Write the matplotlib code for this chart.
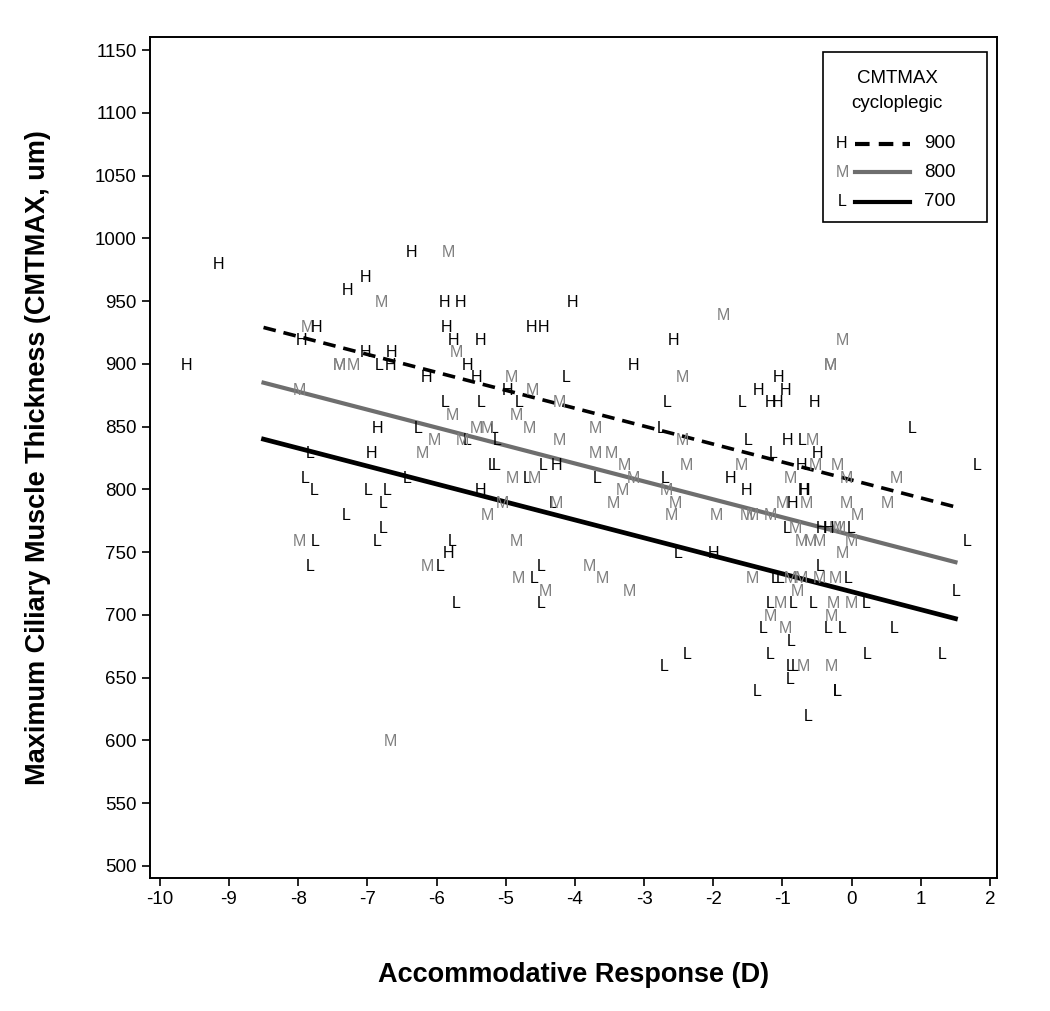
import matplotlib
matplotlib.use("Agg")
import matplotlib.pyplot as plt
import numpy as np
from matplotlib.patches import Rectangle

plt.rcParams['font.family'] = ['Liberation Sans', 'DejaVu Sans']
plt.rcParams['axes.unicode_minus'] = False

# ciliary muscle thickness groups (letter markers)
h_x = [-9.15, -9.61, -7.02, -7.28, -6.36, -5.89, -5.66, -4.04, -7.73, -7.95,
       -5.86, -4.62, -4.46, -5.75, -5.37, -2.58, -7.02, -6.65, -6.66, -5.55,
       -3.16, -6.14, -5.42, -4.98, -1.06, -1.35, -0.96, -1.17, -1.07, -0.53,
       -0.93, -0.49, -0.72, -6.86, -6.94, -4.26, -1.75, -5.37, -1.52, -0.70,
       -0.68, -0.85, -0.43, -0.34, -5.82, -1.99]
h_y = [980, 900, 970, 960, 990, 950, 950, 950, 930, 920,
       930, 930, 930, 920, 920, 920, 910, 910, 900, 900,
       900, 890, 890, 880, 890, 880, 880, 870, 870, 870,
       840, 830, 820, 850, 830, 820, 810, 800, 800, 800,
       800, 790, 770, 770, 750, 750]

m_x = [-5.83, -6.80, -1.85, -7.87, -0.13, -7.41, -7.41, -7.20, -0.30, -0.30,
       -5.71, -2.45, -7.98, -4.91, -4.62, -4.23, -5.77, -4.84, -5.42, -5.27,
       -4.66, -3.70, -6.03, -5.62, -4.23, -2.45, -0.56, -6.21, -3.71, -3.47,
       -3.28, -2.39, -1.59, -0.52, -0.20, -4.90, -4.58, -3.16, -0.88, -0.07,
       0.64, -3.31, -2.68, -5.04, -4.26, -3.45, -2.54, -1.00, -0.66, -0.07,
       0.51, -5.27, -2.61, -1.96, -1.52, -1.43, -1.18, 0.09, -0.81, -0.24,
       -0.17, -4.84, -7.98, -0.72, -0.60, -0.46, 0.00, -0.14, -6.13, -3.79,
       -4.82, -3.60, -1.43, -0.89, -0.72, -0.46, -0.24, -4.43, -3.21, -0.79,
       -1.03, -0.27, 0.00, -1.18, -0.29, -0.95, -0.70, -0.29, -6.66]
m_y = [990, 950, 940, 930, 920, 900, 900, 900, 900, 900,
       910, 890, 880, 890, 880, 870, 860, 860, 850, 850,
       850, 850, 840, 840, 840, 840, 840, 830, 830, 830,
       820, 820, 820, 820, 820, 810, 810, 810, 810, 810,
       810, 800, 800, 790, 790, 790, 790, 790, 790, 790,
       790, 780, 780, 780, 780, 780, 780, 780, 770, 770,
       770, 760, 760, 760, 760, 760, 760, 750, 740, 740,
       730, 730, 730, 730, 730, 730, 730, 720, 720, 720,
       710, 710, 710, 700, 700, 690, 660, 660, 600]

l_x = [-6.83, -4.12, -5.88, -5.36, -4.81, -2.67, -1.58, -6.27, -5.16, -2.76,
       0.87, -5.56, -5.13, -1.49, -0.71, -7.83, -1.14, -5.19, -5.14, -4.46,
       1.81, -6.43, -4.69, -3.68, -2.70, -7.90, -7.77, -6.99, -6.71, -6.77,
       -4.32, -7.31, -0.93, 0.00, -6.77, -7.75, -6.86, 1.67, -5.78, -2.51,
       -0.46, -7.83, -5.95, -4.49, -4.59, -1.11, -1.04, -0.05, 1.51, -5.71,
       -4.49, -1.18, -0.85, -0.55, 0.21, -1.28, -0.34, -0.14, 0.61, -0.87,
       -2.38, -1.18, 0.22, 1.31, -2.71, -0.89, -0.82, -0.89, -1.36, -0.21,
       -0.21, -0.63]
l_y = [900, 890, 870, 870, 870, 870, 870, 850, 850, 850,
       850, 840, 840, 840, 840, 830, 830, 820, 820, 820,
       820, 810, 810, 810, 810, 810, 800, 800, 800, 790,
       790, 780, 770, 770, 770, 760, 760, 760, 760, 750,
       740, 740, 740, 740, 730, 730, 730, 730, 720, 710,
       710, 710, 710, 710, 710, 690, 690, 690, 690, 680,
       670, 670, 670, 670, 660, 660, 660, 650, 640, 640,
       640, 620]

# fitted lines at cycloplegic CMTMAX = 900 / 800 / 700
fit_x = [-8.5, 1.5]
fit_900 = [929, 786]
fit_800 = [885, 742]
fit_700 = [840, 697]

gray = '#808080'
fig = plt.figure(figsize=(10.5, 10.11), dpi=100)
ax = fig.add_axes([0.1429, 0.1316, 0.8066, 0.8318])

for xs, ys, lab, col in [(l_x, l_y, 'L', 'black'), (m_x, m_y, 'M', gray), (h_x, h_y, 'H', 'black')]:
    for x, y in zip(xs, ys):
        ax.text(x, y, lab, color=col, fontsize=11.5, ha='center', va='center_baseline')

ax.plot(fit_x, fit_900, color='black', lw=2.6, ls=(0, (3.5, 2.2)))
ax.plot(fit_x, fit_800, color='#6e6e6e', lw=3.0)
ax.plot(fit_x, fit_700, color='black', lw=3.4)

ax.set_xlim(-10.14, 2.10)
ax.set_ylim(490.4, 1160.4)
ax.set_xticks(range(-10, 3))
ax.set_yticks(range(500, 1151, 50))
ax.tick_params(labelsize=13.5, length=6, width=1.2, direction='out')
for s in ax.spines.values():
    s.set_linewidth(1.4)

ax.set_xlabel('Accommodative Response (D)', fontsize=19.5, fontweight='bold', labelpad=39)
ax.set_ylabel('Maximum Ciliary Muscle Thickness (CMTMAX, um)', fontsize=19.5, fontweight='bold', labelpad=32)

# legend box
ax.add_patch(Rectangle((0.7946, 0.780), 0.1936, 0.2022, transform=ax.transAxes,
                       fill=False, lw=1.2, ec='black', zorder=5))
ax.text(0.882, 0.951, 'CMTMAX', transform=ax.transAxes, ha='center', va='center', fontsize=13.5)
ax.text(0.882, 0.921, 'cycloplegic', transform=ax.transAxes, ha='center', va='center', fontsize=13.5)
rows = [('H', 'black', 'black', (0, (3.5, 2.2)), '900', 0.873),
        ('M', gray, '#6e6e6e', '-', '800', 0.839),
        ('L', 'black', 'black', '-', '700', 0.804)]
for lab, tc, lc, ls, val, yy in rows:
    ax.text(0.817, yy, lab, color=tc, transform=ax.transAxes, ha='center', va='center', fontsize=11.5)
    ax.plot([0.832, 0.897], [yy, yy], color=lc, ls=ls, lw=3.0, transform=ax.transAxes)
    ax.text(0.933, yy, val, transform=ax.transAxes, ha='center', va='center', fontsize=13.5)

fig.savefig('out.png', dpi=100)
